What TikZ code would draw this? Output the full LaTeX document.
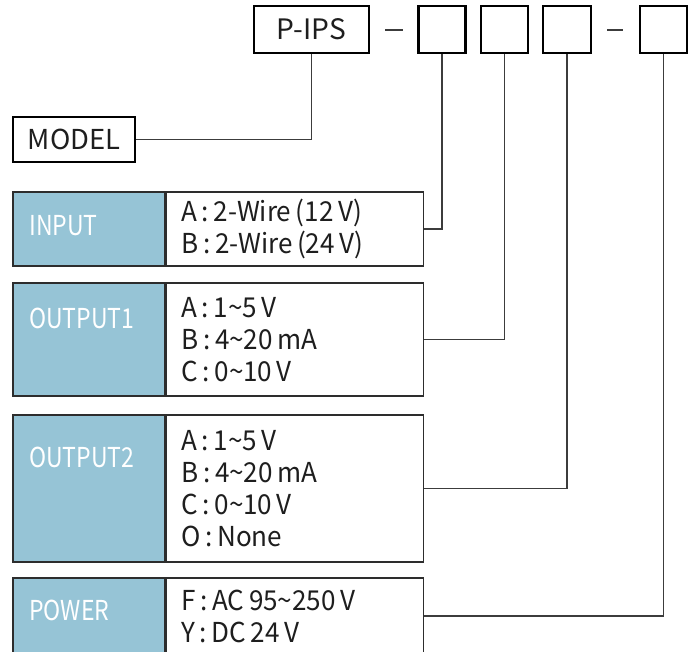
\documentclass[tikz,border=0pt]{standalone}
\usepackage{fontspec}
\setmainfont{Noto Sans CJK KR}
\newfontfamily\lblfont{Noto Sans CJK KR}[FakeStretch=0.84]
\newfontfamily\optfont{Noto Sans CJK KR}[FakeStretch=0.95]
\usepackage{xcolor}
\usepackage{tikz}
\usetikzlibrary{positioning}
\definecolor{cellblue}{RGB}{150,196,214}
\definecolor{framegray}{RGB}{45,45,45}
\definecolor{wiregray}{RGB}{60,60,60}
\definecolor{textdark}{RGB}{30,30,30}

\begin{document}
\begin{tikzpicture}[x=0.025cm, y=-0.025cm,
  codebox/.style={draw=black, line width=1.8pt, minimum height=1.175cm, inner sep=0pt,
    font=\fontsize{19.5pt}{22pt}\selectfont, text=textdark},
  cell/.style={draw=framegray, line width=1.1pt, fill=cellblue, minimum width=3.8cm, inner sep=0pt},
  optbox/.style={draw=framegray, line width=1.1pt, fill=white, minimum width=6.425cm,
    text width=5.675cm, inner xsep=0.375cm, inner ysep=0pt, align=left,
    font=\optfont\fontsize{19.5pt}{22.8pt}\selectfont, text=textdark},
  lbltext/.style={anchor=base west, inner sep=0pt, text=white, font=\lblfont\fontsize{19.5pt}{22pt}\selectfont},
  wire/.style={draw=wiregray, line width=0.8pt}]
\useasboundingbox (0,0) rectangle (688,651);

% code boxes on top
\node[codebox, minimum width=2.875cm, font=\fontsize{20pt}{22pt}\selectfont] (pips) at (311.5,29.5) {P-IPS};
\node[codebox, minimum width=1.175cm] (b1) at (442,29.5) {};
\node[codebox, minimum width=1.175cm] (b2) at (504.5,29.5) {};
\node[codebox, minimum width=1.2cm] (b3) at (567,29.5) {};
\node[codebox, minimum width=1.175cm] (b4) at (663.5,29.5) {};
\draw[wire] (385,30) -- (403,30);
\draw[wire] (607,30) -- (623,30);

\node[codebox, minimum width=3.05cm, minimum height=1.125cm] (model) at (74,139.5) {MODEL};

% option rows
\node[cell, minimum height=1.85cm] (incell) at (89,229) {};
\node[optbox, minimum height=1.85cm, right=0pt of incell] (inopt) {A\,:\,2-Wire\,(12\,V)\\B\,:\,2-Wire\,(24\,V)};
\node[lbltext] (inlbl) at (29,235) {INPUT};

\node[cell, minimum height=2.825cm] (outacell) at (89,339.5) {};
\node[optbox, minimum height=2.825cm, right=0pt of outacell] (outaopt) {A\,:\,1\textasciitilde 5\,V\\B\,:\,4\textasciitilde 20\,mA\\C\,:\,0\textasciitilde 10\,V};
\node[lbltext] (outalbl) at (29,328) {OUTPUT1};

\node[cell, minimum height=3.675cm] (outbcell) at (89,488.5) {};
\node[optbox, minimum height=3.675cm, right=0pt of outbcell] (outbopt) {A\,:\,1\textasciitilde 5\,V\\B\,:\,4\textasciitilde 20\,mA\\C\,:\,0\textasciitilde 10\,V\\O\,:\,None};
\node[lbltext] (outblbl) at (29,467) {OUTPUT2};

\node[cell, minimum height=1.9cm] (pwrcell) at (89,616) {};
\node[optbox, minimum height=1.9cm, right=0pt of pwrcell] (pwropt) {F\,:\,AC\,95\textasciitilde 250\,V\\Y\,:\,DC\,24\,V};
\node[lbltext] (pwrlbl) at (29,620) {POWER};

% connectors
\draw[wire] (pips.south) |- (model.east);
\draw[wire] (b1.south) |- (inopt.east);
\draw[wire] (b2.south) |- (outaopt.east);
\draw[wire] (b3.south) |- (outbopt.east);
\draw[wire] (b4.south) |- (pwropt.east);
\end{tikzpicture}
\end{document}
